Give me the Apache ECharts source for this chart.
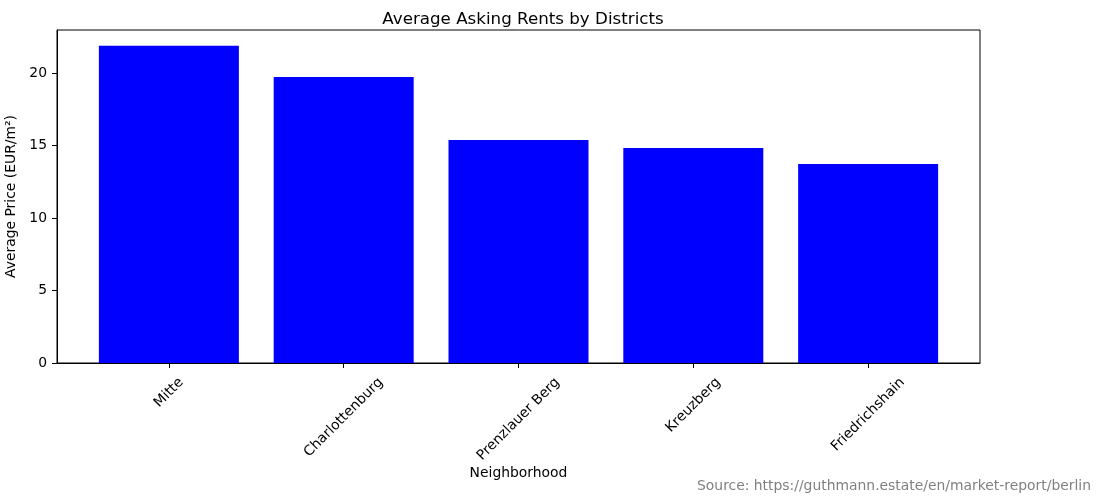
<!DOCTYPE html>
<html>
<head>
<meta charset="utf-8">
<script src="https://cdn.jsdelivr.net/npm/echarts@6/dist/echarts.min.js"></script>
<style>
  html, body { margin: 0; padding: 0; background: #fff; }
  #chart { width: 1101px; height: 503px; }
</style>
</head>
<body>
<div id="chart"></div>
<script>
// data
const districts = ['Mitte', 'Charlottenburg', 'Prenzlauer Berg', 'Kreuzberg', 'Friedrichshain']
const prices = [21.89, 19.74, 15.39, 14.84, 13.73]
const yTicks = [0, 5, 10, 15, 20]

const FONT = "'DejaVu Sans', sans-serif"
const myChart = echarts.init(document.getElementById('chart'))

const option = {
  animation: false,
  title: {
    text: 'Average Asking Rents by Districts',
    left: 518,
    top: 6,
    textAlign: 'center',
    textStyle: { fontFamily: FONT, fontSize: 16.7, fontWeight: 'normal', color: '#000' }
  },
  grid: {
    left: 57, right: 121, top: 30, bottom: 140,
    outerBoundsMode: 'none',
    containLabel: false,
    show: true, borderColor: '#000', borderWidth: 1, backgroundColor: '#fff'
  },
  xAxis: {
    type: 'value',
    min: -0.64,
    max: 4.64,
    name: 'Neighborhood',
    nameLocation: 'middle',
    nameGap: 103,
    nameTextStyle: { fontFamily: FONT, fontSize: 13.9, color: '#000' },
    axisLine: { onZero: false, lineStyle: { color: '#000' } },
    axisTick: { show: true, length: 5, lineStyle: { color: '#000' }, customValues: districts.map((d, i) => i) },
    axisLabel: { show: false },
    splitLine: { show: false }
  },
  yAxis: {
    type: 'value',
    min: 0,
    max: 22.98,
    interval: 5,
    name: 'Average Price (EUR/m²)',
    nameLocation: 'middle',
    nameGap: 36,
    nameTextStyle: { fontFamily: FONT, fontSize: 13.9, color: '#000' },
    axisLine: { show: true, onZero: false, lineStyle: { color: '#000' } },
    axisTick: { show: true, length: 5, lineStyle: { color: '#000' }, customValues: yTicks },
    axisLabel: { fontFamily: FONT, fontSize: 13.9, color: '#000', margin: 10, customValues: yTicks },
    splitLine: { show: false }
  },
  series: [
    {
      type: 'bar',
      barWidth: 140,
      itemStyle: { color: '#0000ff' },
      data: prices.map((v, i) => [i, v])
    }
  ]
}
myChart.setOption(option)

// rotated tick labels, centred on each tick like matplotlib does
const ctx = document.createElement('canvas').getContext('2d')
ctx.font = '13.9px DejaVu Sans'
const axisY = myChart.convertToPixel({ yAxisIndex: 0 }, 0)
const labels = districts.map((d, i) => {
  const w = ctx.measureText(d).width
  const half = (w + 12) * Math.SQRT1_2 / 2
  return {
    type: 'text',
    x: myChart.convertToPixel({ xAxisIndex: 0 }, i),
    y: axisY + 13 + half,
    rotation: Math.PI / 4,
    style: {
      text: d, fontFamily: FONT, fontSize: 13.9, fill: '#000',
      align: 'center', verticalAlign: 'middle'
    }
  }
})
labels.push({
  type: 'text',
  right: 10,
  top: 479,
  style: {
    text: 'Source: https://guthmann.estate/en/market-report/berlin',
    fontFamily: FONT, fontSize: 13.9, fill: '#808080'
  }
})
myChart.setOption({ graphic: labels })
</script>
</body>
</html>
